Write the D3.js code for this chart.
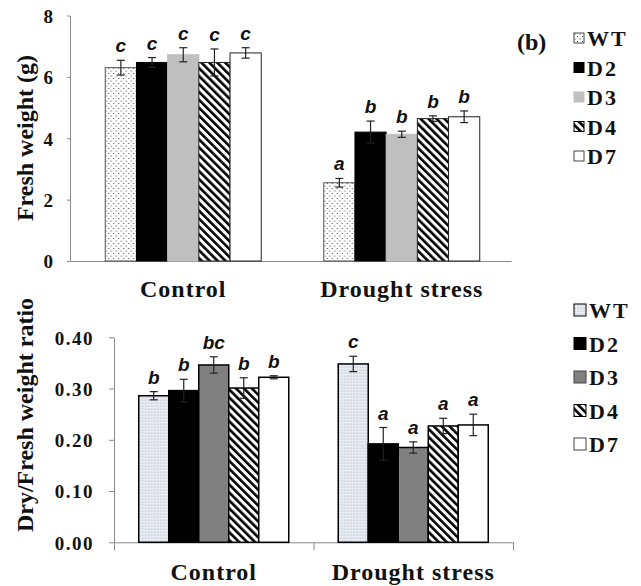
<!DOCTYPE html>
<html>
<head>
<meta charset="utf-8">
<script src="https://cdn.jsdelivr.net/npm/d3@7"></script>
<style>
  body { margin: 0; background: #fff; }
  svg text { font-family: "Liberation Serif", "Times New Roman", serif; font-weight: bold; fill: #111; }
  .sig { font-family: "Liberation Sans", Arial, sans-serif; font-style: italic; font-weight: bold; font-size: 19px; }
</style>
</head>
<body>
<svg id="chart" width="641" height="586"></svg>
<script>
// lines and treatments
var series = ["WT", "D2", "D3", "D4", "D7"];
var groups = ["Control", "Drought stress"];

// (top) fresh weight, g
var freshControl = [6.30, 6.47, 6.72, 6.47, 6.78];
var freshControlErr = [0.24, 0.16, 0.23, 0.44, 0.17];
var freshControlSig = ["c", "c", "c", "c", "c"];
var freshDrought = [2.55, 4.20, 4.13, 4.64, 4.70];
var freshDroughtErr = [0.14, 0.36, 0.10, 0.09, 0.19];
var freshDroughtSig = ["a", "b", "b", "b", "b"];
var freshTicks = [0, 2, 4, 6, 8];

// (bottom) dry / fresh weight ratio
var ratioControl = [0.286, 0.296, 0.346, 0.301, 0.322];
var ratioControlErr = [0.008, 0.022, 0.016, 0.020, 0.003];
var ratioControlSig = ["b", "b", "bc", "b", "b"];
var ratioDrought = [0.348, 0.192, 0.185, 0.227, 0.229];
var ratioDroughtErr = [0.015, 0.032, 0.011, 0.015, 0.021];
var ratioDroughtSig = ["c", "a", "a", "a", "a"];
var ratioTicks = [0, 0.1, 0.2, 0.3, 0.4];

var svg = d3.select("#chart");
var defs = svg.append("defs");

// fill patterns
var p = defs.append("pattern").attr("id", "dotsTop").attr("patternUnits", "userSpaceOnUse")
    .attr("width", 5).attr("height", 5);
p.append("rect").attr("width", 5).attr("height", 5).attr("fill", "#fff");
p.append("circle").attr("cx", 1).attr("cy", 1).attr("r", 0.6).attr("fill", "#333");
p.append("circle").attr("cx", 3.5).attr("cy", 3.5).attr("r", 0.6).attr("fill", "#333");

p = defs.append("pattern").attr("id", "dotsBottom").attr("patternUnits", "userSpaceOnUse")
    .attr("width", 3).attr("height", 3);
p.append("rect").attr("width", 3).attr("height", 3).attr("fill", "#e9edf3");
p.append("circle").attr("cx", 1).attr("cy", 1).attr("r", 0.6).attr("fill", "#97a0ab");

["stripesTop", "stripesBottom"].forEach(function(id) {
    var s = defs.append("pattern").attr("id", id).attr("patternUnits", "userSpaceOnUse")
        .attr("width", 5.6).attr("height", 10).attr("patternTransform", "rotate(-45)");
    s.append("rect").attr("width", 5.6).attr("height", 10).attr("fill", "#fff");
    s.append("rect").attr("width", 2.6).attr("height", 10).attr("fill", "#000");
});

function drawPanel(cfg) {
    var g = svg.append("g");

    var y = d3.scaleLinear().domain(cfg.domain).range([cfg.y0, cfg.y1]);
    var x = d3.scaleBand().domain(groups).range([cfg.xBandStart, cfg.xBandEnd]);
    var inner = d3.scaleBand().domain(series).range([0, cfg.groupWidth]);

    // y axis
    var yAxis = g.append("g")
        .attr("transform", "translate(" + cfg.xAxisStart + ",0)")
        .call(d3.axisLeft(y).tickValues(cfg.ticks).tickFormat(d3.format(cfg.fmt))
            .tickSize(cfg.yTick).tickSizeOuter(0).tickPadding(cfg.yPad));
    yAxis.selectAll("path, line").attr("stroke", "#8a8a8a");
    yAxis.selectAll("text").attr("font-size", 19).attr("letter-spacing", cfg.tickSpacing)
        .attr("dy", "0.36em");

    // x axis line with edge ticks
    var xl = d3.scaleLinear().domain([0, 2]).range([cfg.xAxisStart, cfg.xAxisEnd]);
    var xAxis = g.append("g")
        .attr("transform", "translate(0," + cfg.y0 + ")")
        .call(d3.axisBottom(xl).tickValues(cfg.xTickSize ? [0, 1, 2] : []).tickFormat("")
            .tickSize(cfg.xTickSize).tickSizeOuter(0));
    xAxis.selectAll("path, line").attr("stroke", "#8a8a8a");

    // bars
    cfg.data.forEach(function(grp, gi) {
        var gx = x(groups[gi]) + (x.bandwidth() - cfg.groupWidth) / 2;
        var bg = g.append("g").attr("transform", "translate(" + gx + ",0)");
        series.forEach(function(s, i) {
            bg.append("rect")
                .attr("x", inner(s))
                .attr("y", y(grp.values[i]))
                .attr("width", inner.bandwidth())
                .attr("height", y(0) - y(grp.values[i]))
                .attr("fill", cfg.fills[i])
                .attr("stroke", cfg.strokes[i])
                .attr("stroke-width", cfg.strokeWidth);
        });
        // error bars + significance letters
        series.forEach(function(s, i) {
            var cx = inner(s) + inner.bandwidth() / 2;
            var hi = y(grp.values[i] + grp.err[i]), lo = y(grp.values[i] - grp.err[i]);
            var eb = bg.append("g").attr("stroke", "#222").attr("stroke-width", 1.2);
            eb.append("line").attr("x1", cx).attr("x2", cx).attr("y1", hi).attr("y2", lo);
            eb.append("line").attr("x1", cx - 4).attr("x2", cx + 4).attr("y1", hi).attr("y2", hi);
            eb.append("line").attr("x1", cx - 4).attr("x2", cx + 4).attr("y1", lo).attr("y2", lo);
            bg.append("text").attr("class", "sig")
                .attr("x", cx).attr("y", hi - 8)
                .attr("text-anchor", "middle")
                .text(grp.sig[i]);
        });
    });

    // category labels
    groups.forEach(function(name) {
        g.append("text")
            .attr("x", x(name) + x.bandwidth() / 2)
            .attr("y", cfg.catY)
            .attr("text-anchor", "middle")
            .attr("font-size", 24)
            .attr("letter-spacing", 1)
            .text(name);
    });

    // y title
    g.append("text")
        .attr("transform", "translate(" + cfg.titleX + "," + cfg.titleY + ") rotate(-90)")
        .attr("text-anchor", "middle")
        .attr("font-size", 24)
        .text(cfg.title);

    // legend
    var lg = g.append("g").attr("transform", "translate(" + cfg.legX + "," + cfg.legY + ")");
    series.forEach(function(s, i) {
        var row = lg.append("g").attr("transform", "translate(0," + i * cfg.legStep + ")");
        row.append("rect")
            .attr("x", 0).attr("y", -cfg.legBox / 2)
            .attr("width", cfg.legBox).attr("height", cfg.legBox)
            .attr("fill", cfg.legFills[i])
            .attr("stroke", cfg.legStrokes[i])
            .attr("stroke-width", 1);
        row.append("text")
            .attr("x", cfg.legBox + 3)
            .attr("y", 8)
            .attr("font-size", 22)
            .attr("letter-spacing", 2)
            .text(s);
    });
}

// top panel: fresh weight
drawPanel({
    domain: [0, 8], ticks: freshTicks, fmt: "d",
    y0: 261, y1: 15.5,
    xAxisStart: 70, xAxisEnd: 511,
    xBandStart: 74, xBandEnd: 511,
    groupWidth: 156,
    yTick: 3, yPad: 14, tickSpacing: 0, xTickSize: 0,
    data: [
        { values: freshControl, err: freshControlErr, sig: freshControlSig },
        { values: freshDrought, err: freshDroughtErr, sig: freshDroughtSig }
    ],
    fills: ["url(#dotsTop)", "#000", "#bfbfbf", "url(#stripesTop)", "#fff"],
    strokes: ["#555", "#000", "#bfbfbf", "#222", "#222"],
    strokeWidth: 1,
    catY: 297,
    title: "Fresh weight (g)", titleX: 33, titleY: 138,
    legX: 574, legY: 38, legStep: 29.5, legBox: 10,
    legFills: ["url(#dotsTop)", "#000", "#bfbfbf", "url(#stripesTop)", "#fff"],
    legStrokes: ["#444", "#000", "#bfbfbf", "#000", "#444"]
});

// bottom panel: dry/fresh ratio
drawPanel({
    domain: [0, 0.4], ticks: ratioTicks, fmt: ".2f",
    y0: 542.3, y1: 337.3,
    xAxisStart: 114, xAxisEnd: 513,
    xBandStart: 114, xBandEnd: 513,
    groupWidth: 150,
    yTick: 5, yPad: 15, tickSpacing: 1.5, xTickSize: 8,
    data: [
        { values: ratioControl, err: ratioControlErr, sig: ratioControlSig },
        { values: ratioDrought, err: ratioDroughtErr, sig: ratioDroughtSig }
    ],
    fills: ["url(#dotsBottom)", "#000", "#808080", "url(#stripesBottom)", "#fff"],
    strokes: ["#000", "#000", "#000", "#000", "#000"],
    strokeWidth: 1.5,
    catY: 580,
    title: "Dry/Fresh weight ratio", titleX: 33, titleY: 415,
    legX: 574, legY: 310, legStep: 33.5, legBox: 12,
    legFills: ["url(#dotsBottom)", "#000", "#808080", "url(#stripesBottom)", "#fff"],
    legStrokes: ["#000", "#000", "#444", "#000", "#444"]
});

// panel tag
svg.append("text").attr("x", 517).attr("y", 50).attr("font-size", 24).text("(b)");
</script>
</body>
</html>
